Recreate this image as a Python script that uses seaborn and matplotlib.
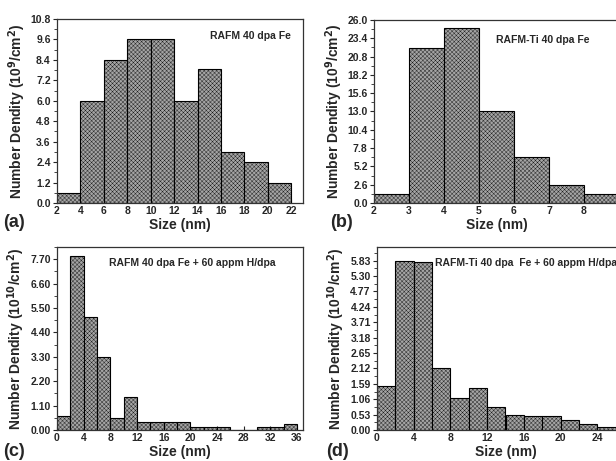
import numpy as np
import pandas as pd
import matplotlib
matplotlib.use("Agg")
import matplotlib.pyplot as plt
from matplotlib.ticker import MultipleLocator, AutoMinorLocator, FormatStrFormatter
import seaborn as sns

sns.set_style("ticks")
plt.rcParams['font.family'] = ['Liberation Sans', 'DejaVu Sans']
plt.rcParams['font.weight'] = 'bold'
plt.rcParams['hatch.linewidth'] = 0.25

# ---- data (bin left edges, bin width, density) ----
edges_a = [2, 4, 6, 8, 10, 12, 14, 16, 18, 20]
dens_a = [0.6, 6.0, 8.4, 9.6, 9.6, 6.0, 7.85, 3.0, 2.4, 1.2]
xticks_a = [2, 4, 6, 8, 10, 12, 14, 16, 18, 20, 22]

edges_b = [2, 3, 4, 5, 6, 7, 8]
dens_b = [1.3, 22.0, 24.8, 13.0, 6.5, 2.6, 1.3]
xticks_b = [2, 3, 4, 5, 6, 7, 8]

edges_c = [0, 2, 4, 6, 8, 10, 12, 14, 16, 18, 20, 22, 24, 26, 28, 30, 32, 34]
dens_c = [0.65, 7.85, 5.08, 3.3, 0.55, 1.5, 0.38, 0.38, 0.38, 0.38,
          0.12, 0.12, 0.12, 0.0, 0.0, 0.12, 0.12, 0.25]
xticks_c = [0, 4, 8, 12, 16, 20, 24, 28, 32, 36]

edges_d = [0, 2, 4, 6, 8, 10, 12, 14, 16, 18, 20, 22, 24]
dens_d = [1.5, 5.83, 5.77, 2.12, 1.1, 1.45, 0.8, 0.53, 0.47, 0.47, 0.33, 0.2, 0.12]
xticks_d = [0, 4, 8, 12, 16, 20, 24]

W, H = 616, 461
fig = plt.figure(figsize=(W / 100, H / 100), dpi=100)


def make_axes(x0, top, w, h):
    return fig.add_axes([x0 / W, (H - top - h) / H, w / W, h / H])


def draw_panel(ax, edges, dens, width, xlim, ylim, xticks, ystep, yfmt,
               unit, note, note_xy, tag, tag_x, tag_y):
    df = pd.DataFrame({'size': np.array(edges) + width / 2, 'dens': dens})
    bins = list(edges) + [edges[-1] + width]
    sns.histplot(data=df, x='size', weights='dens', bins=bins, ax=ax,
                 color='#a4a4a4', edgecolor='black', linewidth=0.8,
                 alpha=1, hatch='xxxxxxxx')
    ax.set_xlim(*xlim)
    ax.set_ylim(*ylim)
    ax.set_xticks(xticks)
    ax.yaxis.set_major_locator(MultipleLocator(ystep))
    ax.yaxis.set_minor_locator(AutoMinorLocator(2))
    ax.yaxis.set_major_formatter(FormatStrFormatter(yfmt))
    ax.tick_params(axis='both', labelsize=7.5, length=3, width=0.8, pad=1.5)
    ax.tick_params(axis='x', direction='in', pad=2.5)
    ax.tick_params(axis='y', which='minor', length=2, width=0.6)
    for lab in ax.get_xticklabels() + ax.get_yticklabels():
        lab.set_fontweight('bold')
    for sp in ax.spines.values():
        sp.set_visible(True)
        sp.set_linewidth(0.9)
        sp.set_color('#333333')
    ax.set_xlabel('Size (nm)', fontsize=10, fontweight='bold', labelpad=1)
    ax.set_ylabel('Number Dendity (10$^{%s}$/cm$^{2}$)' % unit,
                  fontsize=10, fontweight='bold', labelpad=2)
    ax.text(note_xy[0], note_xy[1], note, transform=ax.transAxes,
            fontsize=7.5, fontweight='bold', ha='left', va='center')
    fig.text(tag_x / W, 1 - tag_y / H, tag, fontsize=13,
             fontweight='bold', ha='left', va='center')


ax_a = make_axes(57, 19, 246, 184)
draw_panel(ax_a, edges_a, dens_a, 2, (2, 23), (0, 10.8), xticks_a, 1.2, '%.1f',
           '9', 'RAFM 40 dpa Fe', (0.62, 0.91), '(a)', 3, 222)

ax_b = make_axes(374, 20, 245, 183)
draw_panel(ax_b, edges_b, dens_b, 1, (2, 9), (0, 26.0), xticks_b, 2.6, '%.1f',
           '9', 'RAFM-Ti 40 dpa Fe', (0.50, 0.89), '(b)', 330, 222)

ax_c = make_axes(57, 247, 246, 183)
draw_panel(ax_c, edges_c, dens_c, 2, (0, 36.9), (0, 8.25), xticks_c, 1.10, '%.2f',
           '10', 'RAFM 40 dpa Fe + 60 appm H/dpa', (0.21, 0.91), '(c)', 3, 451)

ax_d = make_axes(377, 247, 257, 183)
draw_panel(ax_d, edges_d, dens_d, 2, (0, 28), (0, 6.3), xticks_d, 0.53, '%.2f',
           '10', 'RAFM-Ti 40 dpa  Fe + 60 appm H/dpa', (0.225, 0.91), '(d)', 326, 451)

fig.savefig('out.png', dpi=100)
